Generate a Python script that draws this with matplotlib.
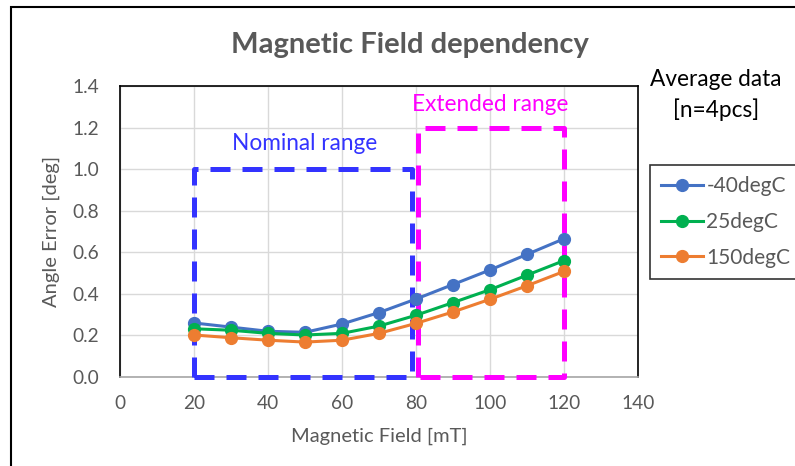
import matplotlib.pyplot as plt
from matplotlib.patches import Rectangle

# data
field = [20, 30, 40, 50, 60, 70, 80, 90, 100, 110, 120]
err_m40 = [0.26, 0.24, 0.22, 0.215, 0.255, 0.31, 0.375, 0.445, 0.515, 0.59, 0.665]
err_25 = [0.232, 0.225, 0.21, 0.202, 0.21, 0.245, 0.297, 0.358, 0.42, 0.49, 0.56]
err_150 = [0.202, 0.189, 0.177, 0.168, 0.177, 0.21, 0.258, 0.313, 0.374, 0.439, 0.508]
series_names = ['-40degC', '25degC', '150degC']

nominal_x = [20, 79]
nominal_y = [0, 1.0]
extended_x = [80.5, 120]
extended_y = [0, 1.2]

plt.rcParams['font.family'] = ['Lato', 'DejaVu Sans']
gray = '#595959'

fig = plt.figure(figsize=(7.95, 4.66), dpi=100)
ax = fig.add_axes([120 / 795, 1 - 377 / 466, 518 / 795, 291 / 466])

# outer chart frame
fig.patches.append(Rectangle((11 / 795, -0.05), 2, 1 - 7 / 466 + 0.05,
                             transform=fig.transFigure, fill=False,
                             edgecolor='black', linewidth=1.5))

ax.plot(field, err_m40, marker='o', color='#4472C4', lw=2.2, ms=8.5, label=series_names[0], zorder=4)
ax.plot(field, err_25, marker='o', color='#00B050', lw=2.2, ms=8.5, label=series_names[1], zorder=4)
ax.plot(field, err_150, marker='o', color='#ED7D31', lw=2.2, ms=8.5, label=series_names[2], zorder=4)

# range boxes
def box(xs, ys, color):
    ax.plot([xs[0], xs[0], xs[1], xs[1], xs[0]], [ys[0], ys[1], ys[1], ys[0], ys[0]],
            color=color, lw=3.6, dashes=(4, 2.4), clip_on=False, zorder=3)

box(nominal_x, nominal_y, '#3333FF')
box(extended_x, extended_y, '#FF00FF')

ax.text(50, 1.125, 'Nominal range', color='#3333FF', fontsize=16.3, ha='center', va='center')
ax.text(100, 1.31, 'Extended range', color='#FF00FF', fontsize=16.3, ha='center', va='center')

ax.set_xlim(0, 140)
ax.set_ylim(0, 1.4)
ax.set_xticks(range(0, 141, 20))
ax.set_yticks([i / 10 for i in range(0, 15, 2)])
ax.set_yticklabels(['%.1f' % (i / 10) for i in range(0, 15, 2)])
ax.tick_params(length=0, labelsize=13.8, colors=gray)
ax.tick_params(axis='y', pad=15)
ax.tick_params(axis='x', pad=13)
ax.grid(color='#d9d9d9', lw=1)
ax.set_axisbelow(True)
for s in ax.spines.values():
    s.set_color('black')
    s.set_linewidth(1.2)
ax.spines['bottom'].set_color('#a6a6a6')

ax.set_xlabel('Magnetic Field [mT]', fontsize=14.5, color=gray, labelpad=11)
ax.set_ylabel('Angle Error [deg]', fontsize=14.5, color=gray, labelpad=9)

fig.text(410 / 795, 1 - 45 / 466, 'Magnetic Field dependency', fontsize=21, fontweight='bold',
         color=gray, ha='center', va='center')
fig.text(716 / 795, 1 - 80 / 466, 'Average data', fontsize=16.3, ha='center', va='center')
fig.text(716 / 795, 1 - 110 / 466, '[n=4pcs]', fontsize=16.3, ha='center', va='center')

leg = ax.legend(loc='upper left', bbox_to_anchor=(650 / 795, 1 - 165 / 466),
                bbox_transform=fig.transFigure, fontsize=15, frameon=True,
                fancybox=False, edgecolor='black', handlelength=2.0,
                borderpad=0.55, labelspacing=0.75, handletextpad=0.15,
                borderaxespad=0)
leg.get_frame().set_linewidth(1.2)
for t in leg.get_texts():
    t.set_color(gray)

fig.savefig('out.png', dpi=100)
